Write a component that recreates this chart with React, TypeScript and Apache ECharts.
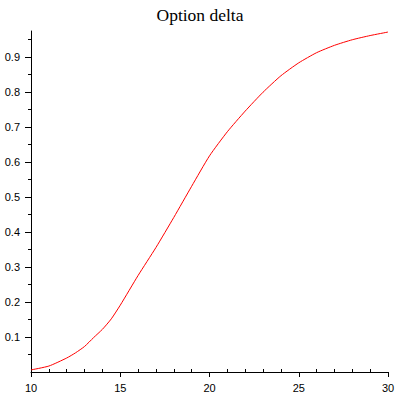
import React, { useEffect, useRef } from "react";
import * as echarts from "echarts";

const titleText = "Option delta";
const xValues = [10, 11, 12, 12.5, 13, 13.5, 14, 14.5, 15, 16, 17, 18, 19, 20, 21, 22, 23, 24, 25, 26, 27, 28, 29, 30];
const deltaValues = [0.006, 0.017, 0.04, 0.055, 0.073, 0.098, 0.122, 0.152, 0.191, 0.276, 0.356, 0.442, 0.531, 0.618, 0.687, 0.746, 0.8, 0.847, 0.884, 0.913, 0.934, 0.95, 0.962, 0.972];
const xMajorTicks = [10, 15, 20, 25, 30];
const xMinorTicks = [11, 12, 13, 14, 16, 17, 18, 19, 21, 22, 23, 24, 26, 27, 28, 29];
const yMajorTicks = [0.1, 0.2, 0.3, 0.4, 0.5, 0.6, 0.7, 0.8, 0.9];
const yMinorTicks = [0.05, 0.15, 0.25, 0.35, 0.45, 0.55, 0.65, 0.75, 0.85, 0.95];
const yMax = 0.975;

export default function App() {
  const ref = useRef<HTMLDivElement>(null);
  useEffect(() => {
    if (!ref.current) return;
    const chart = echarts.init(ref.current, undefined, { renderer: "svg" });
    const labelFont = { fontFamily: "Liberation Sans", fontSize: 11, color: "#000" };
    chart.setOption({
      animation: false,
      backgroundColor: "#fff",
      title: {
        text: titleText,
        left: "center",
        top: 1,
        textStyle: { fontFamily: "Liberation Serif", fontSize: 17.5, fontWeight: "normal", color: "#000" },
      },
      grid: { left: 31, right: 12, top: 31, bottom: 28, containLabel: false },
      xAxis: [
        {
          type: "value",
          min: 10,
          max: 30,
          interval: 5,
          position: "bottom",
          axisLine: { show: true, onZero: false, lineStyle: { color: "#000", width: 1 } },
          axisTick: { show: true, length: 5, customValues: xMajorTicks, lineStyle: { color: "#000" } },
          axisLabel: { ...labelFont, margin: 10, customValues: xMajorTicks },
          splitLine: { show: false },
        },
        {
          type: "value",
          min: 10,
          max: 30,
          position: "bottom",
          offset: 0,
          axisLine: { show: false, onZero: false },
          axisTick: { show: true, inside: true, length: 3, customValues: xMinorTicks, lineStyle: { color: "#000" } },
          axisLabel: { show: false },
          splitLine: { show: false },
        },
      ],
      yAxis: [
        {
          type: "value",
          min: 0,
          max: yMax,
          position: "left",
          axisLine: { show: true, onZero: false, lineStyle: { color: "#000", width: 1 } },
          axisTick: { show: true, length: 6, customValues: yMajorTicks, lineStyle: { color: "#000" } },
          axisLabel: { ...labelFont, margin: 11, customValues: yMajorTicks },
          splitLine: { show: false },
        },
        {
          type: "value",
          min: 0,
          max: yMax,
          position: "left",
          offset: 0,
          axisLine: { show: false, onZero: false },
          axisTick: { show: true, length: 3, customValues: yMinorTicks, lineStyle: { color: "#000" } },
          axisLabel: { show: false },
          splitLine: { show: false },
        },
      ],
      series: [
        {
          type: "line",
          xAxisIndex: 0,
          yAxisIndex: 0,
          data: xValues.map((x, i) => [x, deltaValues[i]]),
          showSymbol: false,
          smooth: 0.2,
          lineStyle: { color: "#ff0000", width: 1 },
        },
      ],
    });
    return () => chart.dispose();
  }, []);
  return <div ref={ref} style={{ width: 400, height: 400, position: "absolute", left: 0, top: 0 }} />;
}
